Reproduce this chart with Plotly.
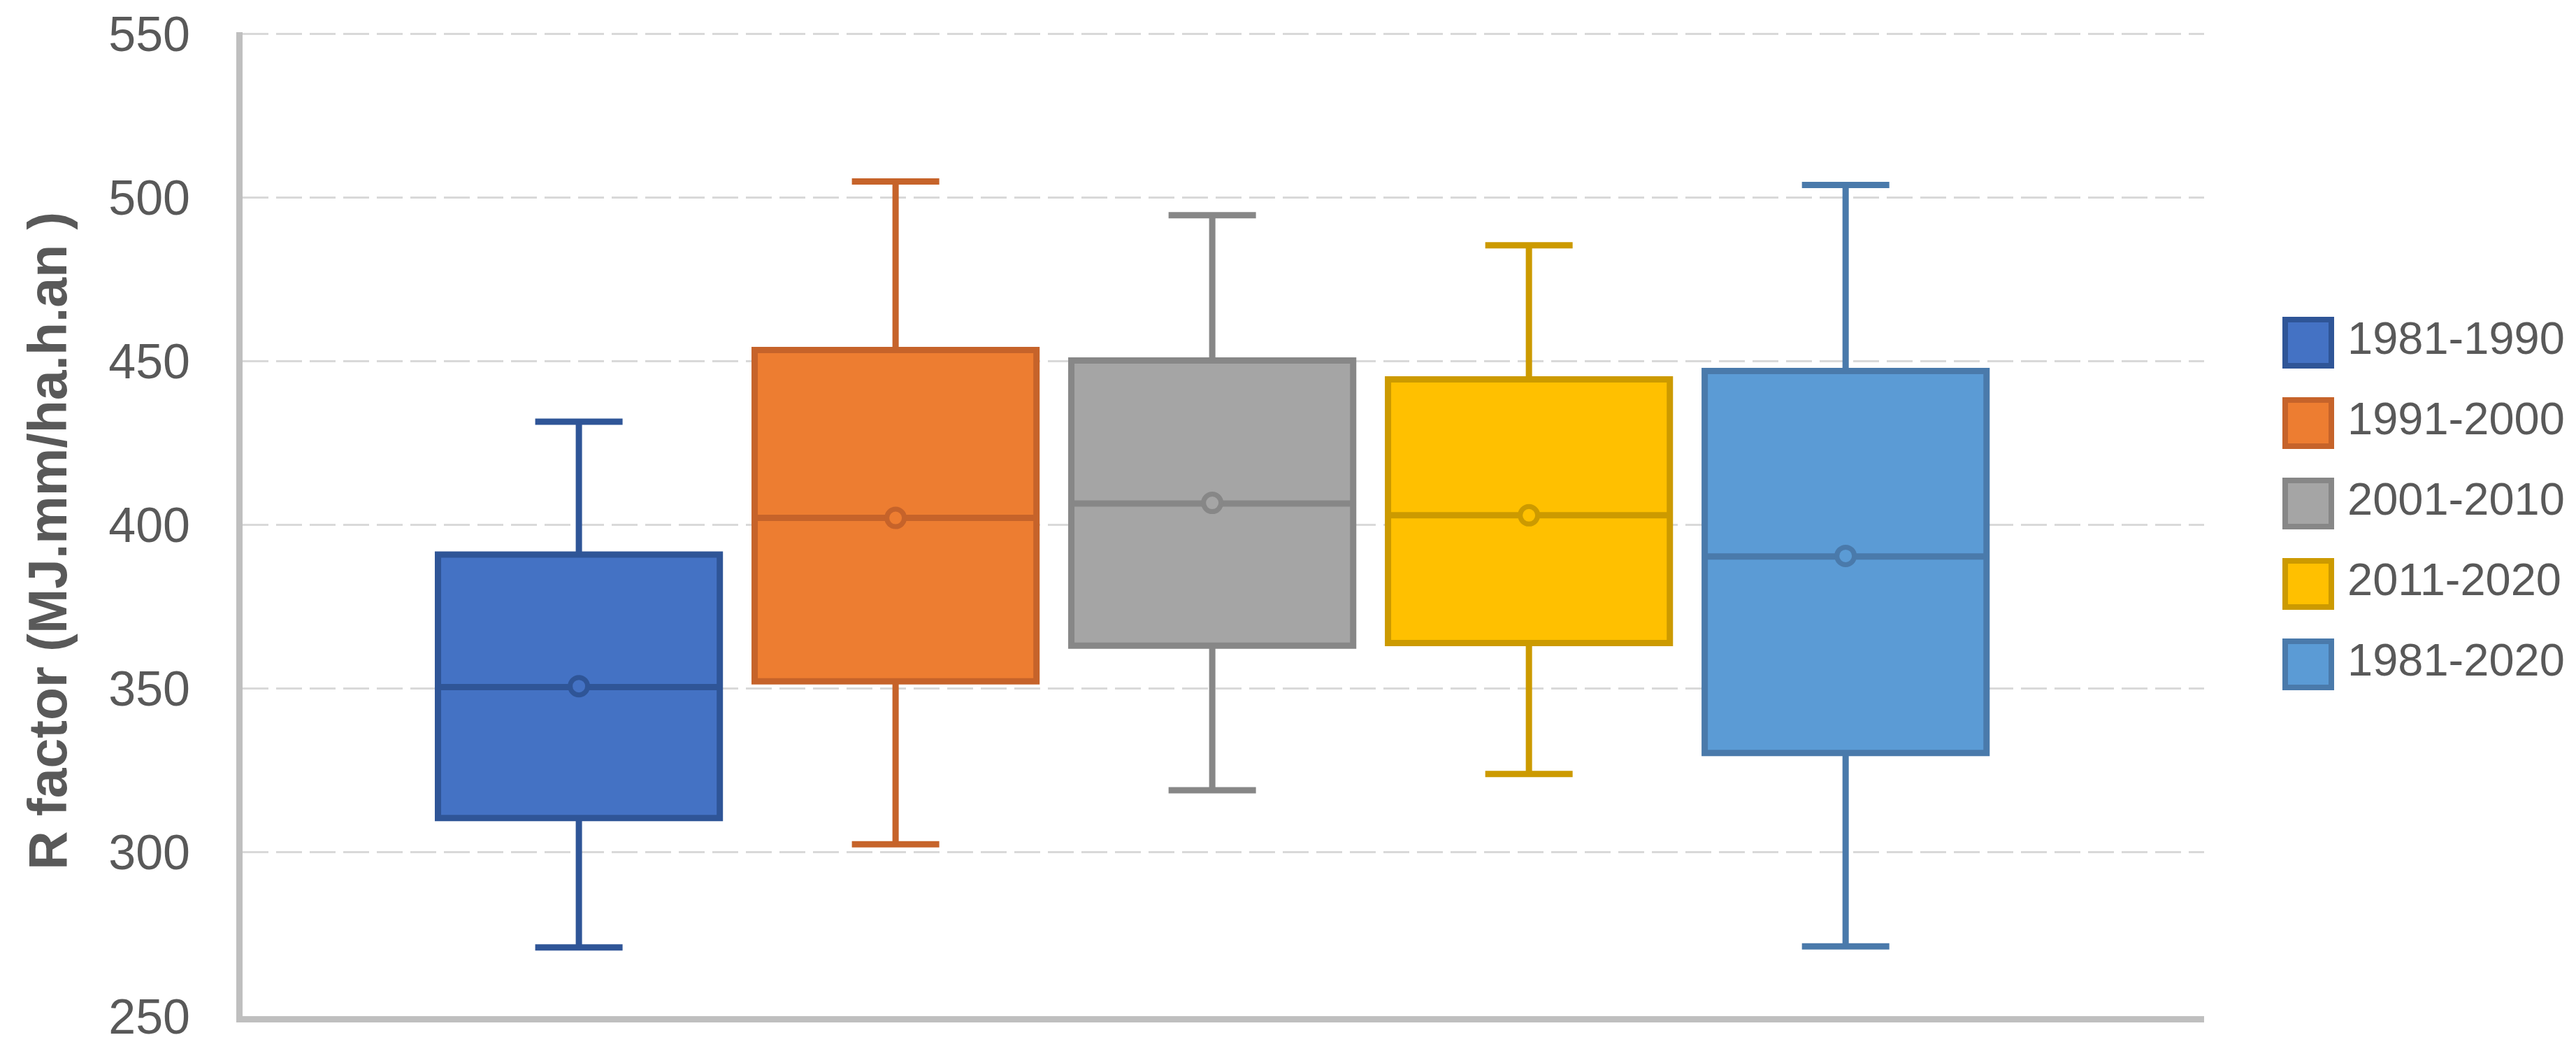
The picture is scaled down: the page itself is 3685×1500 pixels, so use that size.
import plotly.graph_objects as go

# ---------------- data ----------------
PERIODS = ["1981-1990", "1991-2000", "2001-2010", "2011-2020", "1981-2020"]
LOWER = [271.0, 302.5, 319.0, 324.0, 271.3]
Q1 = [310.5, 352.3, 363.2, 364.0, 330.4]
MEDIAN = [350.5, 402.2, 406.6, 403.0, 390.4]
Q3 = [391.0, 453.5, 450.3, 444.5, 447.1]
UPPER = [431.6, 505.0, 494.7, 485.5, 503.9]
MEAN = [350.8, 402.2, 406.8, 403.0, 390.6]

FILLS = ["#4472C4", "#ED7D31", "#A5A5A5", "#FFC000", "#5B9BD5"]
LINES = ["#2F5597", "#C6632A", "#878787", "#CC9A00", "#4A7AAB"]

Y_TITLE = "R factor (MJ.mm/ha.h.an )"
Y_TICKS = [250, 300, 350, 400, 450, 500, 550]

# ---------------- layout constants (pixels) ----------------
W, H = 3685, 1500
ML, MR, MT, MB = 339, 0, 38, 55
PLOT_RIGHT = 3145
PAPER_W = W - ML - MR
PLOT_H = H - MT - MB
MAIN_DOMAIN_END = (PLOT_RIGHT - ML) / PAPER_W
LEG_LEFT = 3240
LEG_SWATCH_X = 3294
LEG_TEXT_X = 3350
LEG_Y0 = 482
LEG_DY = 115
TITLE_X = 60
TITLE_Y = 766

TXT = "#595959"
FONT = "Liberation Sans"

fig = go.Figure()

for i, p in enumerate(PERIODS):
    fig.add_trace(go.Box(
        x=[p], q1=[Q1[i]], median=[MEDIAN[i]], q3=[Q3[i]],
        lowerfence=[LOWER[i]], upperfence=[UPPER[i]],
        name=p, fillcolor=FILLS[i],
        line=dict(color=LINES[i], width=9),
        whiskerwidth=0.31, width=0.89, boxpoints=False,
        showlegend=False,
    ))

for i, p in enumerate(PERIODS):
    fig.add_trace(go.Scatter(
        x=[p], y=[MEAN[i]], mode="markers", showlegend=False,
        marker=dict(symbol="circle", size=25, color=FILLS[i],
                    line=dict(color=LINES[i], width=7)),
        hoverinfo="y",
    ))

# custom legend (large square keys like the original)
leg_y = [LEG_Y0 + k * LEG_DY for k in range(len(PERIODS))]
fig.add_trace(go.Scatter(
    x=[LEG_SWATCH_X] * len(PERIODS), y=leg_y, mode="markers",
    xaxis="x2", yaxis="y2", showlegend=False, cliponaxis=False,
    marker=dict(symbol="square", size=66, color=FILLS,
                line=dict(color=LINES, width=8)),
    hoverinfo="skip",
))
fig.add_trace(go.Scatter(
    x=[LEG_TEXT_X] * len(PERIODS), y=leg_y, mode="text", text=PERIODS,
    textposition="middle right", xaxis="x2", yaxis="y2",
    showlegend=False, cliponaxis=False,
    textfont=dict(family=FONT, size=65, color=TXT),
    hoverinfo="skip",
))

fig.update_layout(
    width=W, height=H,
    margin=dict(l=ML, r=MR, t=MT, b=MB, pad=0),
    paper_bgcolor="white", plot_bgcolor="white",
    showlegend=False,
    xaxis=dict(
        domain=[0, MAIN_DOMAIN_END], type="category",
        categoryorder="array", categoryarray=PERIODS,
        range=[-1.062, 5.132], showticklabels=False, ticks="",
        showgrid=False, zeroline=False,
        showline=True, linecolor="#BFBFBF", linewidth=9,
    ),
    yaxis=dict(
        range=[250, 550.6], tickvals=Y_TICKS, ticks="",
        ticklabelstandoff=52,
        tickfont=dict(family=FONT, size=70, color=TXT),
        showgrid=True, gridcolor="#D9D9D9", gridwidth=3,
        griddash="37px,11px", zeroline=False,
        showline=True, linecolor="#BFBFBF", linewidth=9,
    ),
    xaxis2=dict(domain=[(LEG_LEFT - ML) / PAPER_W, 1], anchor="y2",
                range=[LEG_LEFT, W - MR], visible=False),
    yaxis2=dict(domain=[0, 1], anchor="x2", range=[H - MB, MT],
                visible=False),
    annotations=[dict(
        text=Y_TITLE, textangle=-90, showarrow=False,
        xref="paper", yref="paper",
        x=(TITLE_X - ML) / PAPER_W, y=(H - MB - TITLE_Y) / PLOT_H,
        xanchor="center", yanchor="middle",
        font=dict(family=FONT, size=77, color=TXT, weight="bold"),
    )],
)

fig.write_html("out.html")
